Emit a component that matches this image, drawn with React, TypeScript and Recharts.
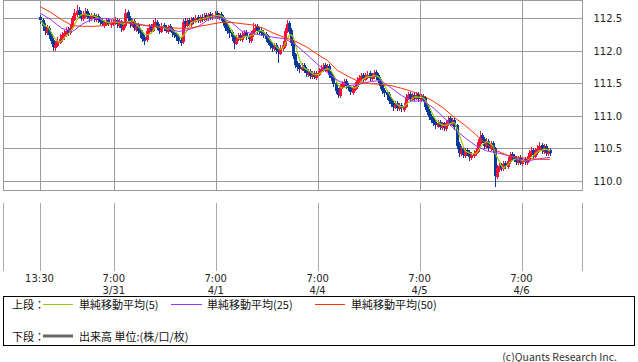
import React from 'react';
import {
  ComposedChart,
  Bar,
  Line,
  XAxis,
  YAxis,
  CartesianGrid,
  ReferenceArea
} from 'recharts';

// 30-minute candles from 3/30 13:30 to 4/6 ~13:00, [open, high, low, close]
const candles: number[][] = [
  [112.52, 112.56, 112.42, 112.47], [112.48, 112.50, 112.30, 112.38], [112.39, 112.43, 112.24, 112.31], [112.28, 112.40, 112.24, 112.35],
  [112.36, 112.38, 112.18, 112.25], [112.26, 112.29, 112.10, 112.16], [112.17, 112.20, 112.00, 112.07], [112.04, 112.16, 112.01, 112.10],
  [112.08, 112.21, 112.05, 112.16], [112.13, 112.26, 112.10, 112.19], [112.17, 112.29, 112.14, 112.25], [112.22, 112.33, 112.18, 112.27],
  [112.25, 112.37, 112.22, 112.31], [112.33, 112.37, 112.23, 112.28], [112.27, 112.41, 112.24, 112.36], [112.35, 112.54, 112.33, 112.50],
  [112.48, 112.65, 112.46, 112.59], [112.56, 112.70, 112.52, 112.62], [112.63, 112.67, 112.50, 112.55], [112.57, 112.61, 112.45, 112.51],
  [112.49, 112.61, 112.46, 112.56], [112.53, 112.66, 112.50, 112.59], [112.61, 112.64, 112.49, 112.55], [112.56, 112.59, 112.45, 112.51],
  [112.49, 112.59, 112.46, 112.55], [112.56, 112.59, 112.45, 112.50], [112.47, 112.57, 112.44, 112.53], [112.54, 112.57, 112.43, 112.48],
  [112.50, 112.53, 112.40, 112.45], [112.47, 112.50, 112.37, 112.42], [112.39, 112.48, 112.36, 112.44], [112.41, 112.50, 112.38, 112.45],
  [112.47, 112.50, 112.37, 112.42], [112.40, 112.48, 112.36, 112.44], [112.41, 112.49, 112.38, 112.45], [112.42, 112.52, 112.39, 112.47],
  [112.48, 112.51, 112.36, 112.41], [112.38, 112.49, 112.35, 112.44], [112.45, 112.48, 112.29, 112.35], [112.33, 112.44, 112.30, 112.39],
  [112.38, 112.65, 112.36, 112.59], [112.60, 112.63, 112.45, 112.50], [112.51, 112.54, 112.35, 112.41], [112.39, 112.49, 112.36, 112.44],
  [112.46, 112.49, 112.30, 112.35], [112.32, 112.43, 112.29, 112.38], [112.40, 112.43, 112.26, 112.31], [112.33, 112.36, 112.21, 112.27],
  [112.29, 112.32, 112.14, 112.19], [112.22, 112.25, 112.10, 112.16], [112.17, 112.35, 112.14, 112.31], [112.29, 112.41, 112.26, 112.36],
  [112.38, 112.42, 112.28, 112.33], [112.31, 112.47, 112.29, 112.41], [112.39, 112.50, 112.36, 112.44], [112.45, 112.48, 112.32, 112.36],
  [112.38, 112.41, 112.26, 112.31], [112.30, 112.43, 112.27, 112.38], [112.40, 112.43, 112.30, 112.35], [112.37, 112.40, 112.27, 112.31],
  [112.29, 112.40, 112.26, 112.36], [112.38, 112.41, 112.28, 112.33], [112.34, 112.37, 112.22, 112.27], [112.29, 112.32, 112.19, 112.24],
  [112.26, 112.29, 112.15, 112.21], [112.23, 112.26, 112.10, 112.15], [112.17, 112.20, 112.07, 112.12], [112.14, 112.49, 112.11, 112.44],
  [112.46, 112.50, 112.35, 112.41], [112.39, 112.50, 112.36, 112.45], [112.47, 112.50, 112.37, 112.42], [112.40, 112.52, 112.37, 112.48],
  [112.50, 112.53, 112.42, 112.47], [112.45, 112.55, 112.42, 112.50], [112.52, 112.55, 112.43, 112.48], [112.46, 112.56, 112.43, 112.51],
  [112.53, 112.57, 112.45, 112.50], [112.48, 112.58, 112.45, 112.53], [112.55, 112.58, 112.46, 112.51], [112.49, 112.59, 112.46, 112.55],
  [112.57, 112.60, 112.48, 112.53], [112.51, 112.59, 112.48, 112.55], [112.53, 112.61, 112.50, 112.56], [112.58, 112.61, 112.48, 112.53],
  [112.51, 112.59, 112.48, 112.55], [112.57, 112.60, 112.46, 112.51], [112.53, 112.56, 112.39, 112.44], [112.46, 112.49, 112.31, 112.36],
  [112.38, 112.41, 112.26, 112.31], [112.33, 112.36, 112.21, 112.27], [112.29, 112.32, 112.15, 112.21], [112.23, 112.25, 112.03, 112.13],
  [112.11, 112.24, 112.08, 112.19], [112.17, 112.27, 112.14, 112.22], [112.24, 112.27, 112.14, 112.19], [112.17, 112.29, 112.14, 112.25],
  [112.23, 112.32, 112.20, 112.27], [112.29, 112.32, 112.16, 112.21], [112.23, 112.26, 112.12, 112.18], [112.16, 112.31, 112.13, 112.27],
  [112.25, 112.43, 112.22, 112.33], [112.31, 112.41, 112.28, 112.36], [112.38, 112.41, 112.26, 112.31], [112.33, 112.37, 112.25, 112.30],
  [112.32, 112.35, 112.22, 112.27], [112.29, 112.32, 112.19, 112.24], [112.26, 112.29, 112.14, 112.19], [112.21, 112.24, 112.08, 112.13],
  [112.15, 112.18, 112.03, 112.08], [112.10, 112.13, 111.99, 112.05], [112.03, 112.12, 112.00, 112.07], [112.09, 112.12, 111.95, 112.01],
  [112.03, 112.06, 111.82, 111.98], [111.96, 112.09, 111.93, 112.05], [112.03, 112.15, 112.00, 112.10], [112.08, 112.36, 112.06, 112.31],
  [112.29, 112.47, 112.27, 112.41], [112.43, 112.46, 112.26, 112.31], [112.33, 112.35, 112.08, 112.13], [112.15, 112.17, 111.88, 111.93],
  [111.95, 111.97, 111.74, 111.79], [111.81, 111.85, 111.70, 111.76], [111.78, 111.82, 111.67, 111.73], [111.71, 111.81, 111.68, 111.76],
  [111.78, 111.81, 111.65, 111.70], [111.72, 111.75, 111.60, 111.66], [111.63, 111.72, 111.60, 111.67], [111.69, 111.72, 111.57, 111.62],
  [111.60, 111.69, 111.57, 111.64], [111.66, 111.69, 111.56, 111.61], [111.59, 111.70, 111.56, 111.66], [111.64, 111.74, 111.61, 111.70],
  [111.68, 111.78, 111.65, 111.73], [111.71, 111.82, 111.68, 111.76], [111.78, 111.81, 111.67, 111.72], [111.70, 111.80, 111.67, 111.75],
  [111.77, 111.80, 111.59, 111.64], [111.66, 111.69, 111.53, 111.58], [111.60, 111.63, 111.44, 111.49], [111.51, 111.54, 111.34, 111.39],
  [111.41, 111.44, 111.28, 111.33], [111.31, 111.50, 111.29, 111.46], [111.44, 111.54, 111.41, 111.49], [111.47, 111.57, 111.44, 111.52],
  [111.54, 111.57, 111.41, 111.46], [111.48, 111.51, 111.38, 111.43], [111.45, 111.48, 111.33, 111.38], [111.36, 111.47, 111.33, 111.43],
  [111.41, 111.52, 111.38, 111.47], [111.45, 111.61, 111.43, 111.56], [111.54, 111.64, 111.51, 111.59], [111.57, 111.67, 111.54, 111.62],
  [111.64, 111.67, 111.53, 111.58], [111.56, 111.66, 111.53, 111.61], [111.59, 111.69, 111.56, 111.64], [111.66, 111.69, 111.54, 111.59],
  [111.57, 111.67, 111.54, 111.62], [111.60, 111.71, 111.57, 111.66], [111.68, 111.71, 111.56, 111.61], [111.63, 111.66, 111.50, 111.55],
  [111.57, 111.60, 111.41, 111.46], [111.48, 111.51, 111.34, 111.39], [111.41, 111.44, 111.30, 111.36], [111.38, 111.41, 111.26, 111.32],
  [111.34, 111.37, 111.19, 111.24], [111.26, 111.29, 111.13, 111.19], [111.21, 111.24, 111.09, 111.15], [111.13, 111.23, 111.10, 111.18],
  [111.20, 111.23, 111.08, 111.13], [111.11, 111.20, 111.08, 111.15], [111.17, 111.20, 111.06, 111.12], [111.10, 111.21, 111.07, 111.16],
  [111.14, 111.34, 111.12, 111.29], [111.27, 111.37, 111.24, 111.32], [111.34, 111.37, 111.22, 111.27], [111.25, 111.35, 111.22, 111.30],
  [111.32, 111.36, 111.24, 111.29], [111.27, 111.37, 111.24, 111.32], [111.34, 111.37, 111.22, 111.27], [111.25, 111.34, 111.22, 111.29],
  [111.31, 111.34, 111.21, 111.26], [111.28, 111.31, 111.10, 111.15], [111.17, 111.20, 111.01, 111.06], [111.08, 111.11, 110.94, 110.99],
  [111.01, 111.04, 110.90, 110.95], [110.97, 111.00, 110.85, 110.90], [110.92, 110.95, 110.81, 110.86], [110.84, 110.94, 110.81, 110.89],
  [110.91, 110.94, 110.79, 110.84], [110.82, 110.92, 110.79, 110.87], [110.89, 110.92, 110.78, 110.83], [110.81, 110.95, 110.78, 110.90],
  [110.88, 111.00, 110.85, 110.95], [110.97, 111.00, 110.84, 110.89], [110.87, 110.97, 110.84, 110.92], [110.94, 110.97, 110.79, 110.84],
  [110.86, 110.88, 110.50, 110.55], [110.57, 110.60, 110.37, 110.44], [110.42, 110.55, 110.39, 110.49], [110.51, 110.54, 110.35, 110.41],
  [110.39, 110.51, 110.36, 110.47], [110.49, 110.52, 110.39, 110.44], [110.46, 110.49, 110.32, 110.38], [110.36, 110.46, 110.33, 110.41],
  [110.39, 110.49, 110.36, 110.44], [110.42, 110.52, 110.39, 110.47], [110.45, 110.65, 110.43, 110.60], [110.58, 110.78, 110.55, 110.69],
  [110.71, 110.74, 110.58, 110.63], [110.65, 110.68, 110.50, 110.55], [110.53, 110.67, 110.50, 110.60], [110.62, 110.65, 110.47, 110.52],
  [110.50, 110.62, 110.47, 110.57], [110.59, 110.62, 110.44, 110.49], [110.51, 110.53, 109.92, 110.09], [110.07, 110.25, 110.04, 110.20],
  [110.18, 110.29, 110.15, 110.24], [110.26, 110.29, 110.16, 110.21], [110.19, 110.32, 110.16, 110.27], [110.29, 110.32, 110.19, 110.24],
  [110.22, 110.37, 110.19, 110.32], [110.30, 110.45, 110.27, 110.40], [110.42, 110.45, 110.32, 110.37], [110.39, 110.42, 110.29, 110.34],
  [110.36, 110.39, 110.25, 110.30], [110.28, 110.39, 110.25, 110.35], [110.37, 110.40, 110.24, 110.29], [110.27, 110.36, 110.24, 110.32],
  [110.34, 110.37, 110.25, 110.30], [110.28, 110.39, 110.25, 110.35], [110.33, 110.48, 110.30, 110.43], [110.41, 110.53, 110.38, 110.47],
  [110.49, 110.52, 110.35, 110.40], [110.38, 110.51, 110.35, 110.46], [110.44, 110.56, 110.41, 110.50], [110.48, 110.61, 110.45, 110.54],
  [110.56, 110.59, 110.42, 110.47], [110.45, 110.57, 110.42, 110.52], [110.54, 110.57, 110.39, 110.44], [110.42, 110.51, 110.39, 110.46],
  [110.48, 110.51, 110.38, 110.43]
];

// moving averages every 5th candle
const ma25Read = [
  112.58, 112.48, 112.35, 112.30, 112.42, 112.50, 112.50, 112.47, 112.44, 112.41,
  112.39, 112.38, 112.35, 112.30, 112.33, 112.39, 112.51, 112.51, 112.44, 112.30,
  112.27, 112.24, 112.21, 112.19, 112.10, 111.96, 111.81, 111.67, 111.55, 111.47,
  111.49, 111.53, 111.55, 111.44, 111.32, 111.23, 111.24, 111.13, 110.98, 110.80,
  110.67, 110.55, 110.47, 110.44, 110.40, 110.34, 110.32, 110.35, 110.37
];
const ma50Read = [
  112.68, 112.59, 112.48, 112.39, 112.38, 112.38, 112.39, 112.45, 112.44, 112.42,
  112.39, 112.38, 112.36, 112.35, 112.35, 112.38, 112.41, 112.44, 112.44, 112.42,
  112.40, 112.35, 112.27, 112.21, 112.15, 112.07, 111.96, 111.86, 111.70, 111.61,
  111.53, 111.50, 111.49, 111.47, 111.43, 111.38, 111.32, 111.23, 111.12, 110.98,
  110.86, 110.72, 110.57, 110.47, 110.40, 110.37, 110.35, 110.34, 110.34
];

const tickIndex = [0, 35, 83, 131, 179, 227];
const tickTime = ['13:30', '7:00', '7:00', '7:00', '7:00', '7:00'];
const tickDate = ['', '3/31', '4/1', '4/4', '4/5', '4/6'];
const priceTicks = [110, 110.5, 111, 111.5, 112, 112.5];

const UP = '#f5103c';
const DOWN = '#083a9c';
const GRID = '#9a9a9a';
const FONT = '"DejaVu Sans", sans-serif';
const JP = '"Noto Sans CJK JP", sans-serif';

const closes = candles.map(c => c[3]);
const rows = candles.map(([o, h, l, c], i) => {
  const win = closes.slice(Math.max(0, i - 4), i + 1);
  return {
    i, o, h, l, c,
    range: [l, h],
    ma5: win.reduce((a, b) => a + b, 0) / win.length,
    ma25: i % 5 === 0 ? ma25Read[i / 5] : null,
    ma50: i % 5 === 0 ? ma50Read[i / 5] : null,
    volume: null
  };
});

const X_DOMAIN = [-17.43, 255.26];

const Candle = (props: any) => {
  const { x, y, width, height, payload } = props;
  if (!payload) return null;
  const { o, h, l, c } = payload;
  const cx = Math.round(x + width / 2);
  const span = h - l || 1;
  const py = (v: number) => y + ((h - v) / span) * height;
  const color = c >= o ? UP : DOWN;
  const top = Math.round(py(Math.max(o, c)));
  const bot = Math.round(py(Math.min(o, c)));
  return (
    <g shapeRendering="crispEdges">
      <rect x={cx} y={Math.round(y)} width={1} height={Math.max(Math.round(height), 1)} fill={color} />
      <rect x={cx - 1} y={top} width={3} height={Math.max(bot - top, 1)} fill={color} />
    </g>
  );
};

const TimeTick = (props: any) => {
  const { x, y, payload } = props;
  const k = tickIndex.indexOf(payload.value);
  return (
    <text x={x} y={y} textAnchor="middle" fontSize={10} fontFamily={FONT} fill="#222">
      <tspan x={x - 1} dy={3}>{tickTime[k]}</tspan>
      {tickDate[k] && <tspan x={x - 1} dy={12}>{tickDate[k]}</tspan>}
    </text>
  );
};

export default function App() {
  return (
    <div style={{ position: 'absolute', left: 0, top: 0, width: 638, height: 362, background: '#fff' }}>
      <div style={{ position: 'absolute', left: 0, top: 0 }}>
        <ComposedChart width={638} height={191} data={rows} margin={{ top: 0.5, right: 0, left: 3.5, bottom: 0.5 }}>
          <XAxis dataKey="i" type="number" domain={X_DOMAIN} ticks={tickIndex} allowDataOverflow hide />
          <YAxis
            orientation="right"
            width={55.5}
            domain={[109.862, 112.776]}
            ticks={priceTicks}
            allowDataOverflow
            axisLine={false}
            tickLine={false}
            tickSize={0}
            tickMargin={11}
            tickFormatter={(v: number) => v.toFixed(1)}
            tick={{ fontSize: 10, fill: '#222', fontFamily: FONT }}
          />
          <CartesianGrid stroke={GRID} shapeRendering="crispEdges" />
          <ReferenceArea x1={X_DOMAIN[0]} x2={X_DOMAIN[1]} y1={109.862} y2={112.776} fill="none" stroke={GRID} shapeRendering="crispEdges" ifOverflow="visible" />
          <Bar dataKey="range" barSize={2} shape={<Candle />} isAnimationActive={false} />
          <Line dataKey="ma5" type="linear" stroke="#99cc00" strokeWidth={1.2} dot={false} isAnimationActive={false} />
          <Line dataKey="ma25" type="linear" stroke="#9933ff" strokeWidth={1} dot={false} connectNulls isAnimationActive={false} />
          <Line dataKey="ma50" type="linear" stroke="#ff3300" strokeWidth={1} dot={false} connectNulls isAnimationActive={false} />
        </ComposedChart>
      </div>

      <div style={{ position: 'absolute', left: 0, top: 202 }}>
        <ComposedChart width={638} height={99} data={rows} margin={{ top: 0.5, right: 55.5, left: 3.5, bottom: 0.5 }}>
          <XAxis
            dataKey="i"
            type="number"
            domain={X_DOMAIN}
            ticks={tickIndex}
            allowDataOverflow
            height={30}
            axisLine={false}
            tickLine={false}
            tick={<TimeTick />}
          />
          <YAxis hide domain={[0, 1]} />
          <CartesianGrid stroke="#aaaaaa" horizontal={false} shapeRendering="crispEdges" />
          <ReferenceArea x1={X_DOMAIN[0]} x2={X_DOMAIN[1]} y1={0} y2={1} fill="none" stroke={GRID} shapeRendering="crispEdges" ifOverflow="visible" />
          <Bar dataKey="volume" fill="#666" isAnimationActive={false} />
        </ComposedChart>
      </div>

      <svg width={638} height={72} style={{ position: 'absolute', left: 0, top: 290 }}>
        <rect x={3.5} y={6.5} width={631} height={49} fill="#fff" stroke="#000" strokeWidth={1} />
        <g fontFamily={JP} fontSize={11} fill="#111" dominantBaseline="central">
          <text x={12} y={14}>上段：</text>
          <line x1={43} x2={73} y1={14.5} y2={14.5} stroke="#99cc00" />
          <text x={79} y={14}>単純移動平均(5)</text>
          <line x1={171} x2={202} y1={14.5} y2={14.5} stroke="#9933ff" />
          <text x={207} y={14}>単純移動平均(25)</text>
          <line x1={315} x2={345} y1={14.5} y2={14.5} stroke="#ff3300" />
          <text x={351} y={14}>単純移動平均(50)</text>
          <text x={12} y={46}>下段：</text>
          <line x1={43} x2={73} y1={46} y2={46} stroke="#666" strokeWidth={3} />
          <text x={79} y={46}>出来高 単位:(株/口/枚)</text>
        </g>
        <text x={617} y={66} textAnchor="end" fontFamily={JP} fontSize={10.5} fill="#333" dominantBaseline="central">(c)Quants Research Inc.</text>
      </svg>
    </div>
  );
}
